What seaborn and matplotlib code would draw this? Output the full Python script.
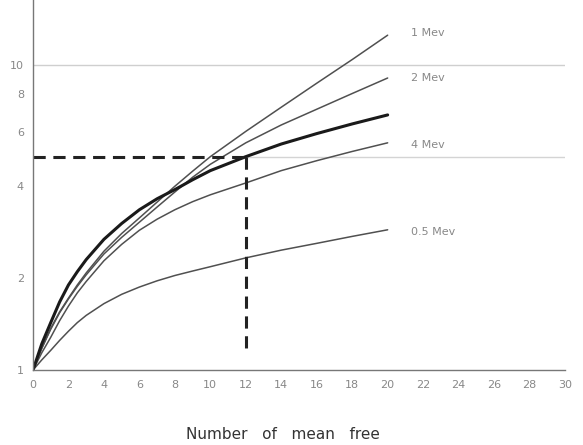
import numpy as np
import pandas as pd
import matplotlib
matplotlib.use("Agg")
import matplotlib.pyplot as plt
import seaborn as sns

mfp = [0, 0.5, 1, 1.5, 2, 2.5, 3, 4, 5, 6, 7, 8, 9, 10, 12, 14, 16, 18, 20]

# buildup factor (log axis)
b_1mev = [1, 1.18, 1.37, 1.55, 1.72, 1.9, 2.08, 2.45, 2.8, 3.15, 3.55, 4.0, 4.48, 5.0, 6.05, 7.26, 8.7, 10.4, 12.5]
b_2mev = [1, 1.18, 1.36, 1.54, 1.71, 1.88, 2.05, 2.4, 2.72, 3.05, 3.42, 3.83, 4.28, 4.72, 5.55, 6.35, 7.15, 8.05, 9.05]
b_thick = [1, 1.22, 1.43, 1.67, 1.9, 2.1, 2.3, 2.68, 3.02, 3.35, 3.64, 3.9, 4.2, 4.5, 5.0, 5.5, 5.95, 6.4, 6.85]
b_4mev = [1, 1.14, 1.28, 1.45, 1.62, 1.79, 1.95, 2.28, 2.58, 2.87, 3.12, 3.35, 3.56, 3.75, 4.1, 4.5, 4.85, 5.2, 5.55]
b_05mev = [1, 1.08, 1.16, 1.25, 1.34, 1.43, 1.51, 1.65, 1.77, 1.87, 1.96, 2.04, 2.11, 2.18, 2.33, 2.47, 2.6, 2.74, 2.88]

labels = ["1 Mev", "2 Mev", "4 Mev", "0.5 Mev"]
label_y = [12.7, 9.06, 5.47, 2.84]

x_ticks = list(range(0, 31, 2))
y_ticks = [1, 2, 4, 6, 8, 10]

# reading marked by the dashed lines
read_x = 12
read_b = 5.0

sns.set_style("white")
fig = plt.figure(figsize=(5.83, 4.45), dpi=100)
ax = fig.add_axes([0.0566, 0.1685, 0.9125, 0.8315])

thin = "#505050"
for vals in [b_1mev, b_2mev, b_4mev, b_05mev]:
    sns.lineplot(x=mfp, y=vals, ax=ax, color=thin, linewidth=1.1)
sns.lineplot(x=mfp, y=b_thick, ax=ax, color="#1a1a1a", linewidth=2.2)

for lab, ly in zip(labels, label_y):
    ax.text(21.3, ly, lab, fontsize=8, color="#888888", va="center", ha="left")

# faint ruled lines from the scan
ax.axhline(10, color="#cfcfcf", linewidth=1.0, zorder=0)
ax.plot([read_x, 30], [read_b, read_b], color="#d4d4d4", linewidth=1.0, zorder=0)

# dashed reading lines
ax.plot([0, read_x], [read_b, read_b], color="#222222", linewidth=2.2,
        linestyle=(0, (4, 2.5)))
ax.plot([read_x, read_x], [read_b, 1.16], color="#222222", linewidth=2.2,
        linestyle=(0, (4, 2.5)))

ax.set_yscale("log")
ax.set_xlim(0, 30)
ax.set_ylim(1, 16.3)
ax.set_xticks(x_ticks)
ax.set_xticklabels([str(t) for t in x_ticks])
ax.set_yticks(y_ticks)
ax.set_yticklabels([str(t) for t in y_ticks])
ax.yaxis.set_minor_locator(matplotlib.ticker.NullLocator())
ax.tick_params(axis="both", colors="#888888", labelsize=8, length=3, width=0.8)
ax.tick_params(axis="x", pad=4)

for side in ["top", "right"]:
    ax.spines[side].set_visible(False)
for side in ["left", "bottom"]:
    ax.spines[side].set_color("#777777")
    ax.spines[side].set_linewidth(1.0)

ax.set_xlabel("Number   of   mean   free", fontsize=11, color="#333333")
ax.xaxis.set_label_coords(0.47, -0.155)
ax.set_ylabel("")

fig.savefig("out.png", dpi=100)
